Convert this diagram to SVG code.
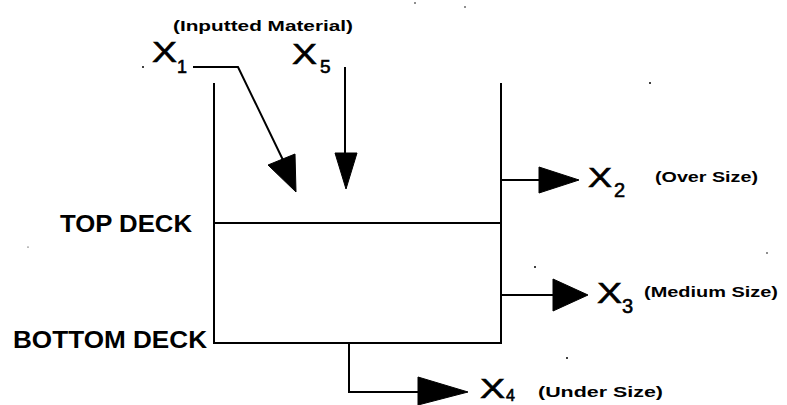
<svg xmlns="http://www.w3.org/2000/svg" width="787" height="405" viewBox="0 0 787 405">
<style>
.ln{stroke:#000;stroke-width:2;fill:none;stroke-linejoin:miter}
.ah{fill:#000;stroke:#000;stroke-width:1}
.x{font-family:"Liberation Sans",Arial,sans-serif;fill:#000;stroke:#000;stroke-width:0.6}
.lb{font-family:"Liberation Sans",Arial,sans-serif;font-weight:bold;fill:#000}
.dot{fill:#000}
</style>
<rect width="787" height="405" fill="#fff"/>
<g id="screen">
<path class="ln" d="M214,83 V343 H501 V83"/>
<line class="ln" x1="214" y1="223" x2="501" y2="223"/>
</g>
<g id="top-deck"><text class="lb" x="60" y="232" font-size="24" textLength="132" lengthAdjust="spacingAndGlyphs">TOP DECK</text></g>
<g id="bottom-deck"><text class="lb" x="13" y="348" font-size="23" textLength="194" lengthAdjust="spacingAndGlyphs">BOTTOM DECK</text></g>
<g id="x1">
<text class="lb" x="173" y="31" font-size="15" textLength="180" lengthAdjust="spacingAndGlyphs">(Inputted Material)</text>
<text class="x" x="152" y="62" font-size="30" textLength="25" lengthAdjust="spacingAndGlyphs">X</text>
<text class="x" x="177" y="73" font-size="18">1</text>
</g>
<g id="x5">
<text class="x" x="292" y="64" font-size="30" textLength="25" lengthAdjust="spacingAndGlyphs">X</text>
<text class="x" x="320" y="73" font-size="19">5</text>
</g>
<g id="x2">
<text class="x" x="588" y="187" font-size="28" textLength="24" lengthAdjust="spacingAndGlyphs">X</text>
<text class="x" x="614" y="197" font-size="20">2</text>
<text class="lb" x="655" y="182" font-size="15" textLength="103" lengthAdjust="spacingAndGlyphs">(Over Size)</text>
</g>
<g id="x3">
<text class="x" x="597" y="303" font-size="30" textLength="25" lengthAdjust="spacingAndGlyphs">X</text>
<text class="x" x="622" y="313" font-size="20">3</text>
<text class="lb" x="644" y="297" font-size="15" textLength="134" lengthAdjust="spacingAndGlyphs">(Medium Size)</text>
</g>
<g id="x4">
<text class="x" x="480" y="398" font-size="27" textLength="25" lengthAdjust="spacingAndGlyphs">X</text>
<text class="x" x="506" y="401" font-size="16">4</text>
<text class="lb" x="538" y="397" font-size="15" textLength="125" lengthAdjust="spacingAndGlyphs">(Under Size)</text>
</g>
<g id="connectors">
<polyline class="ln" points="193,67 238,67 283,160"/>
<polygon class="ah" points="268,165 295,154 296,192"/>
<line class="ln" x1="345" y1="67" x2="345" y2="156"/>
<polygon class="ah" points="335,153 357,153 346,189"/>
<line class="ln" x1="501" y1="180" x2="545" y2="180"/>
<polygon class="ah" points="539,167 579,180 539,193"/>
<line class="ln" x1="501" y1="295" x2="556" y2="295"/>
<polygon class="ah" points="553,279 588,295 553,311"/>
<polyline class="ln" points="349,343 349,392 421,392"/>
<polygon class="ah" points="418,377 468,392 418,405"/>
</g>
<g id="specks">
<circle class="dot" cx="143" cy="67" r="1"/>
<circle class="dot" cx="415" cy="3" r="0.8"/>
<circle class="dot" cx="465" cy="7" r="0.8"/>
<circle class="dot" cx="650" cy="83" r="1"/>
<circle class="dot" cx="535" cy="267" r="1"/>
<circle class="dot" cx="767" cy="253" r="0.8"/>
<circle class="dot" cx="567" cy="358" r="1"/>
<circle class="dot" cx="28" cy="247" r="0.6"/>
</g>
</svg>
